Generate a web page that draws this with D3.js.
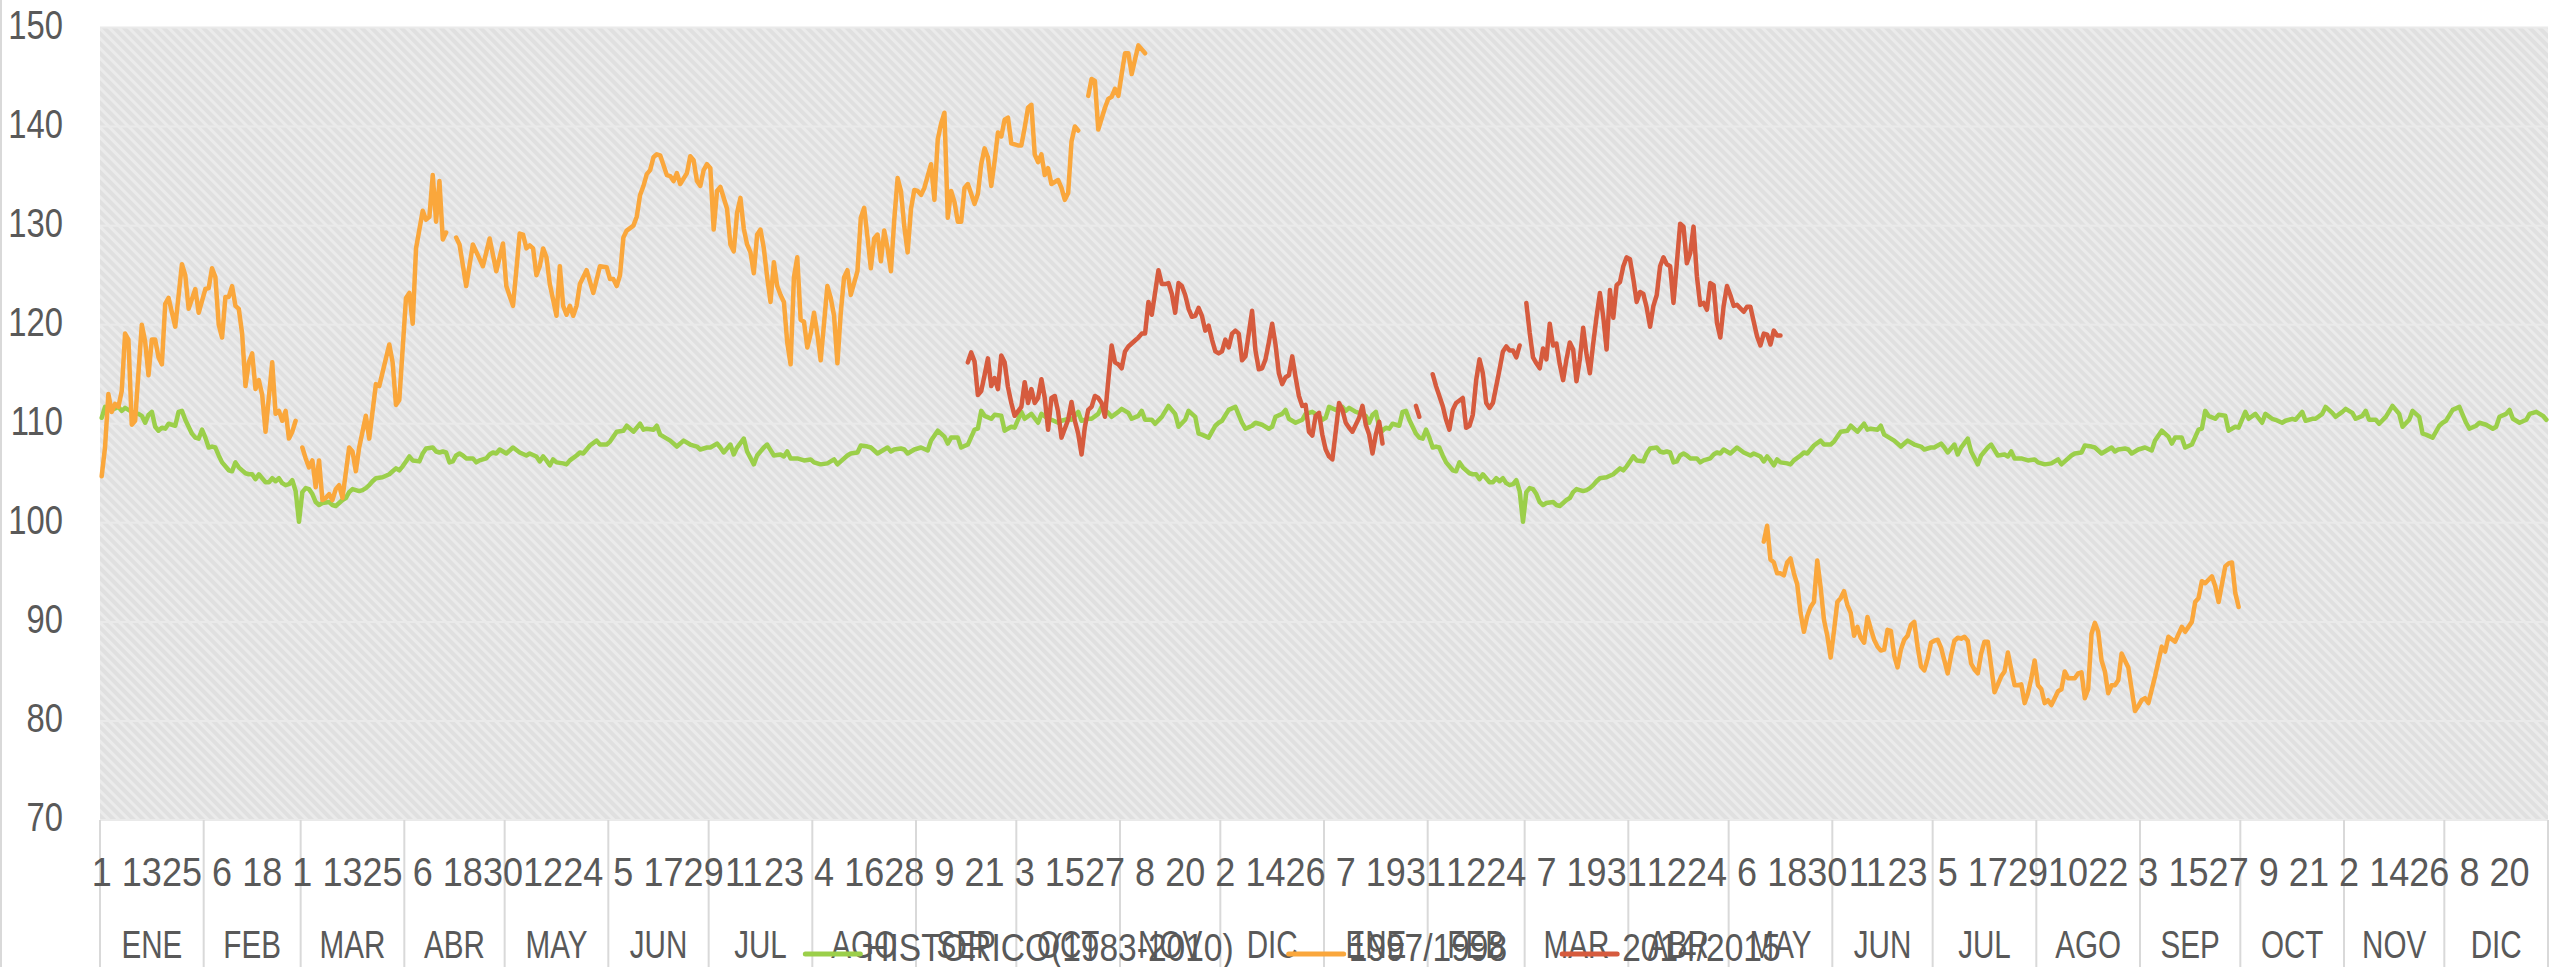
<!DOCTYPE html>
<html lang="es">
    <head>
        <meta charset="utf-8">
        <title>D3</title>
        <script type="text/javascript" src="https://cdnjs.cloudflare.com/ajax/libs/d3/7.8.5/d3.min.js"></script>
        <style type="text/css">
            body { margin: 0; background: #fff; }
            text { font-family: "Liberation Sans", Arial, sans-serif; fill: #595959; }
        </style>
    </head>
    <body>
        <script type="text/javascript">
            var w = 2552;
            var h = 967;

            // eje x: dos temporadas, dia a dia (febrero con 29 dias en ambas)
            var meses = ["ENE", "FEB", "MAR", "ABR", "MAY", "JUN", "JUL", "AGO", "SEP", "OCT", "NOV", "DIC"];
            var diasMes = [31, 29, 31, 30, 31, 30, 31, 31, 30, 31, 30, 31];
            var anios = 2;
            var pasoEtiqueta = 12;

            var yTicks = [70, 80, 90, 100, 110, 120, 130, 140, 150];

            var series = ["HISTORICO(1983-2010)", "1997/1998", "2014/2015"];
            var colores = ["#9bcf4a", "#faa73c", "#d65b3e"];

            // [indice de dia, valor]; null = sin dato
            var historico = [[0,110.6],[1,111.7],[3,111.4],[5,111.7],[6,111.3],[7,111.6],[8,111.4],[9,111.2],[11,111.0],[12,110.8],[13,110.1],[14,110.9],[15,111.2],[16,109.7],[17,109.3],[18,109.6],[19,109.5],[20,110.0],[21,109.9],[22,109.8],[23,111.2],[24,111.3],[25,110.4],[27,109.0],[28,108.6],[29,108.5],[30,109.4],[31,108.6],[32,107.6],[33,107.7],[34,107.6],[35,106.8],[36,106.1],[38,105.3],[39,105.2],[40,106.1],[41,105.6],[42,105.3],[43,105.0],[44,104.9],[45,104.9],[46,104.4],[47,104.9],[48,104.5],[49,104.1],[50,104.1],[51,104.5],[52,104.2],[53,104.5],[54,104.0],[55,103.8],[56,103.9],[57,104.3],[58,103.2],[59,100.1],[60,103.1],[61,103.5],[62,103.4],[63,102.9],[64,102.1],[65,101.8],[66,102.0],[68,102.1],[69,101.8],[70,101.7],[71,102.0],[72,102.3],[73,102.5],[74,103.1],[75,103.4],[77,103.2],[78,103.3],[79,103.5],[80,103.8],[81,104.2],[82,104.5],[84,104.6],[86,104.9],[87,105.2],[88,105.5],[89,105.3],[90,105.7],[91,106.2],[92,106.7],[93,106.3],[95,106.2],[96,107.0],[97,107.5],[99,107.6],[100,107.2],[101,107.1],[102,107.2],[103,107.1],[104,106.1],[105,106.2],[106,106.8],[107,107.0],[108,106.8],[109,106.5],[110,106.5],[111,106.5],[112,106.1],[113,106.3],[115,106.5],[116,106.9],[117,107.1],[118,107.0],[119,107.4],[120,107.2],[121,107.0],[122,107.3],[123,107.6],[125,107.1],[127,106.8],[128,107.0],[130,106.7],[131,106.2],[132,106.7],[133,106.3],[134,105.8],[135,106.4],[136,106.1],[138,106.0],[139,105.9],[140,106.3],[142,106.8],[143,107.1],[144,107.0],[146,107.8],[148,108.3],[149,107.9],[151,107.9],[152,108.2],[154,109.2],[156,109.3],[157,109.8],[159,109.2],[161,110.0],[162,109.4],[163,109.5],[165,109.4],[166,109.8],[167,108.9],[169,108.5],[170,108.3],[172,107.7],[174,108.3],[176,107.9],[178,107.7],[179,107.4],[181,107.6],[182,107.6],[184,108.0],[185,107.6],[186,107.1],[188,107.9],[189,106.9],[190,107.6],[192,108.5],[193,107.2],[195,105.9],[196,106.8],[198,107.6],[199,107.9],[201,106.8],[203,106.9],[204,106.7],[205,107.2],[206,106.5],[208,106.5],[210,106.3],[212,106.4],[213,106.1],[215,105.9],[217,106.0],[219,106.4],[220,105.9],[221,106.2],[223,106.8],[224,107.0],[226,107.1],[227,107.8],[229,107.7],[230,107.6],[232,107.0],[234,107.4],[235,107.6],[236,107.2],[237,107.4],[239,107.5],[240,107.4],[241,107.0],[242,107.2],[243,107.4],[245,107.6],[247,107.3],[248,108.3],[250,109.3],[252,108.7],[253,108.0],[254,108.6],[256,108.6],[257,107.6],[259,107.9],[261,109.4],[262,109.5],[263,111.3],[264,110.8],[266,110.5],[267,110.9],[269,110.8],[270,109.3],[272,109.7],[273,109.6],[275,111.2],[276,110.5],[278,111.0],[280,110.1],[281,111.0],[283,110.5],[284,110.4],[286,110.1],[287,110.3],[289,110.5],[290,110.4],[292,111.2],[293,110.3],[295,110.5],[296,110.5],[298,111.0],[299,111.7],[301,111.1],[302,110.7],[304,111.2],[305,111.5],[307,111.1],[308,110.5],[310,110.8],[311,111.3],[312,110.4],[314,110.4],[315,110.0],[317,110.7],[319,111.8],[321,111.0],[322,109.7],[324,110.4],[325,111.3],[327,110.7],[328,109.0],[329,108.9],[331,108.6],[333,109.8],[334,110.1],[335,110.3],[337,111.4],[339,111.7],[341,110.1],[342,109.5],[344,109.8],[345,110.1],[347,109.9],[349,109.5],[350,109.7],[351,110.7],[353,111.0],[354,111.4],[355,110.5],[357,110.1],[359,110.4],[360,111.0],[362,111.2],[364,110.8],[365,110.4]];

            var t9798 = [[0,104.7],[1,107.6],[2,113.0],[3,111.2],[4,112.0],[5,111.7],[6,113.3],[7,119.1],[8,118.5],[9,109.9],[10,110.3],[12,120.0],[13,118.3],[14,114.9],[15,118.5],[16,118.5],[17,116.7],[18,116.0],[19,122.1],[20,122.7],[22,119.8],[24,126.1],[25,125.0],[26,121.6],[28,123.6],[29,121.2],[31,123.6],[32,123.7],[33,125.7],[34,124.8],[35,120.0],[36,118.7],[37,122.8],[38,122.8],[39,123.9],[40,121.9],[41,121.6],[42,119.1],[43,113.8],[44,116.2],[45,117.1],[46,113.5],[47,114.4],[48,112.9],[49,109.2],[51,116.2],[52,111.0],[53,111.3],[54,110.3],[55,111.3],[56,108.5],[57,109.2],[58,110.3],[59,null],[60,107.6],[61,106.5],[62,105.6],[63,106.3],[64,103.6],[65,106.3],[66,102.3],[67,102.5],[68,102.9],[69,102.3],[70,103.4],[71,103.8],[72,102.5],[74,107.6],[75,107.2],[76,105.2],[77,107.6],[79,110.8],[80,108.5],[82,114.0],[83,113.8],[86,118.0],[87,116.2],[88,111.9],[89,112.4],[91,122.7],[92,123.2],[93,120.1],[94,127.7],[96,131.5],[97,130.6],[98,130.9],[99,135.1],[100,130.4],[101,134.5],[102,128.6],[103,129.3],[104,null],[106,128.8],[107,128.1],[109,123.9],[111,128.1],[114,125.9],[116,128.7],[118,125.4],[120,128.2],[121,123.9],[123,121.9],[125,129.2],[126,129.1],[127,127.7],[128,128.0],[129,127.7],[130,125.0],[131,125.9],[132,127.7],[133,126.8],[134,124.1],[136,120.9],[137,125.9],[138,121.9],[139,121.0],[140,121.9],[141,120.9],[142,121.9],[143,124.1],[145,125.5],[147,123.2],[149,125.9],[151,125.8],[152,124.6],[153,124.6],[154,123.9],[155,125.0],[156,128.8],[157,129.5],[159,130.0],[160,130.9],[161,133.1],[162,134.0],[163,135.2],[164,135.6],[165,136.9],[166,137.2],[167,137.1],[169,135.1],[170,135.0],[171,134.5],[172,135.3],[173,134.2],[175,135.3],[176,137.0],[177,136.6],[178,134.5],[179,134.0],[180,135.6],[181,136.2],[182,135.8],[183,129.6],[184,133.5],[185,133.9],[187,131.7],[188,128.1],[189,127.4],[190,131.3],[191,132.8],[192,129.7],[193,128.1],[194,127.3],[195,125.2],[196,129.1],[197,129.6],[198,127.7],[199,124.8],[200,122.3],[201,126.3],[202,123.9],[203,123.0],[204,122.3],[205,118.2],[206,116.0],[207,124.8],[208,126.8],[209,120.5],[210,120.3],[211,117.7],[212,119.1],[213,121.2],[214,119.1],[215,116.4],[217,123.9],[218,122.7],[219,120.9],[220,116.1],[221,121.2],[222,124.8],[223,125.5],[224,123.0],[226,125.4],[227,130.8],[228,131.8],[229,128.8],[230,125.7],[231,128.7],[232,129.1],[233,126.4],[234,129.5],[235,127.7],[236,125.4],[237,130.6],[238,134.8],[239,133.5],[240,129.9],[241,127.3],[242,131.7],[243,133.6],[244,133.5],[245,133.1],[246,133.8],[248,136.2],[249,132.6],[250,138.7],[251,140.3],[252,141.4],[253,130.8],[254,133.5],[255,132.4],[256,130.4],[257,130.4],[258,133.8],[259,134.2],[261,132.2],[262,133.2],[263,136.2],[264,137.8],[265,136.9],[266,134.0],[267,136.5],[268,139.4],[269,139.0],[270,140.7],[271,140.9],[272,138.3],[274,138.1],[275,138.1],[276,139.9],[277,141.9],[278,142.2],[279,137.2],[280,136.4],[281,137.2],[282,135.1],[283,135.8],[284,134.2],[286,134.6],[287,133.8],[288,132.6],[289,133.3],[290,138.5],[291,140.0],[292,139.6],[293,null],[295,143.1],[296,144.8],[297,144.6],[298,139.7],[300,141.9],[301,142.8],[302,143.0],[303,143.8],[304,143.1],[305,145.3],[306,147.4],[307,147.4],[308,145.3],[309,146.8],[310,148.2],[312,147.4],[313,null],
                [497,98.1],[498,99.7],[499,96.3],[500,96.0],[501,94.9],[502,94.9],[503,94.7],[504,96.0],[505,96.4],[506,94.9],[507,93.8],[508,90.9],[509,89.0],[510,90.6],[511,91.5],[512,92.0],[513,96.2],[514,93.5],[515,90.2],[516,88.6],[517,86.4],[518,89.1],[519,92.0],[520,92.4],[521,93.1],[522,91.7],[523,90.9],[524,88.6],[525,89.5],[526,88.4],[527,87.9],[528,90.5],[529,89.3],[530,88.2],[531,87.5],[532,87.1],[533,87.2],[534,89.2],[535,89.1],[536,86.6],[537,85.4],[538,87.2],[539,88.2],[540,88.6],[541,89.7],[542,90.0],[543,87.5],[544,85.5],[545,85.1],[546,86.3],[547,87.9],[548,88.1],[549,88.2],[550,87.4],[551,86.1],[552,84.8],[553,86.6],[554,88.1],[555,88.4],[556,88.3],[557,88.5],[558,88.1],[559,85.8],[560,85.2],[561,84.8],[562,86.8],[563,88.0],[564,88.0],[565,85.5],[566,82.9],[567,83.7],[568,84.5],[569,85.0],[570,86.9],[571,85.2],[572,83.6],[573,83.6],[574,83.7],[575,81.8],[576,82.8],[577,84.3],[578,86.1],[579,83.6],[580,83.2],[581,81.8],[582,82.1],[583,81.6],[584,82.3],[585,83.0],[586,83.2],[587,85.0],[588,84.3],[589,84.3],[590,84.3],[591,84.8],[592,84.9],[593,82.3],[594,83.2],[595,88.8],[596,89.9],[597,89.0],[598,86.1],[599,85.0],[600,82.8],[601,83.6],[602,83.6],[603,84.1],[604,86.8],[605,86.1],[606,85.4],[607,83.2],[608,81.0],[609,81.5],[610,82.1],[611,82.3],[612,81.8],[614,84.5],[616,87.5],[617,87.0],[618,88.5],[620,88.0],[622,89.5],[623,89.0],[625,90.0],[626,92.0],[627,92.4],[628,94.1],[629,93.9],[631,94.6],[632,93.6],[633,92.0],[635,95.6],[636,95.9],[637,96.0],[638,92.9],[639,91.5]];

            var t1415 = [[259,116.2],[260,117.2],[261,116.3],[262,112.9],[263,113.3],[264,114.9],[265,116.6],[266,113.8],[267,114.6],[268,113.5],[269,116.9],[270,116.2],[271,113.7],[272,112.1],[273,110.8],[275,111.7],[276,114.2],[277,112.1],[278,113.5],[279,112.1],[280,112.6],[281,114.5],[282,112.6],[283,109.4],[284,112.6],[285,112.8],[286,111.2],[287,108.6],[289,110.4],[290,112.2],[291,110.3],[292,109.0],[293,106.9],[294,109.7],[295,111.4],[296,111.7],[297,112.8],[298,112.6],[299,112.1],[300,110.7],[301,114.4],[302,117.9],[303,116.2],[304,116.0],[305,115.6],[306,117.3],[307,117.8],[309,118.4],[310,118.7],[311,119.1],[312,119.1],[313,122.3],[314,121.0],[316,125.5],[317,124.1],[318,124.1],[319,124.2],[320,123.1],[321,121.2],[322,124.2],[323,123.9],[324,123.0],[325,121.6],[326,120.8],[327,120.9],[328,121.7],[329,120.9],[330,119.4],[331,119.9],[332,118.5],[333,117.3],[334,117.1],[335,117.3],[336,118.5],[337,117.7],[338,119.1],[339,119.4],[340,119.1],[341,116.4],[342,116.8],[343,119.1],[344,121.4],[345,117.4],[346,115.5],[347,115.6],[348,116.5],[349,118.2],[350,120.1],[351,118.0],[352,115.1],[353,114.0],[354,114.7],[355,114.9],[356,116.8],[357,114.7],[358,112.8],[359,111.8],[360,111.9],[361,109.2],[362,108.8],[363,110.8],[364,111.1],[365,108.9],[366,107.4],[367,106.7],[368,106.4],[369,109.2],[370,112.1],[371,111.4],[372,110.1],[373,109.6],[374,109.2],[376,110.6],[377,111.8],[378,109.9],[379,108.9],[380,107.0],[381,108.9],[382,110.2],[383,108.0],[384,null],[393,111.8],[394,110.7],[395,null],[398,115.0],[399,113.8],[401,111.8],[402,110.4],[403,109.4],[404,111.4],[405,112.1],[407,112.6],[408,109.6],[409,109.8],[410,110.9],[411,114.4],[412,116.5],[413,115.1],[414,112.1],[415,111.6],[416,112.1],[418,115.5],[419,117.3],[420,117.8],[421,117.4],[422,117.4],[423,116.7],[424,117.9],[425,null],[426,122.2],[427,119.2],[428,116.7],[429,116.1],[430,115.6],[431,117.6],[432,116.5],[433,120.1],[434,117.9],[435,118.1],[436,116.0],[437,114.4],[438,116.5],[439,118.2],[440,117.5],[441,114.3],[442,116.5],[443,119.7],[444,117.0],[445,115.1],[446,118.1],[447,120.8],[448,123.2],[449,120.8],[450,117.5],[451,123.5],[452,120.7],[453,124.0],[454,124.3],[455,125.9],[456,126.8],[457,126.6],[458,124.6],[459,122.3],[460,123.3],[461,123.1],[462,121.7],[463,119.8],[464,121.9],[465,123.0],[466,125.9],[467,126.8],[468,126.1],[469,125.9],[470,122.2],[471,126.2],[472,130.2],[473,129.9],[474,126.2],[475,127.2],[476,129.9],[477,124.9],[478,122.0],[479,122.2],[480,121.5],[481,124.2],[482,124.0],[483,120.2],[484,118.7],[485,121.9],[486,123.9],[487,123.0],[488,121.9],[489,122.0],[491,121.3],[492,121.8],[493,121.8],[494,120.3],[495,118.8],[496,117.9],[497,119.1],[498,119.0],[499,118.0],[500,119.4],[501,118.9],[502,118.9]];

            // categorias: todos los dias de las dos temporadas
            var dias = [];
            for (var a = 0; a < anios; a++) {
                for (var m = 0; m < 12; m++) {
                    for (var d = 1; d <= diasMes[m]; d++) {
                        dias.push({ anio: a, mes: m, dia: d });
                    }
                }
            }
            var diasAnio = d3.sum(diasMes);

            // el historico es la misma curva anual repetida en cada temporada
            var historicoDos = historico.concat(historico.map(function (p) {
                return [p[0] + diasAnio, p[1]];
            }));

            var margin = { left: 100, right: 4, top: 27.5, bottom: 147 };

            // letra alta y estrecha como la del original
            var fuente = { ejeY: 40, escY: 0.82, dia: 40, escDia: 0.9, mes: 39, escMes: 0.76, ley: 39, escLey: 0.86 };

            var x = d3.scaleBand()
                      .domain(d3.range(dias.length))
                      .range([margin.left, w - margin.right]);
            var y = d3.scaleLinear()
                      .domain([70, 150])
                      .range([h - margin.bottom, margin.top]);
            var cx = function (i) { return x(i) + x.bandwidth() / 2; };

            var svg = d3.select("body")
                        .append("svg")
                        .attr("width", w)
                        .attr("height", h);

            var defs = svg.append("defs");
            var trama = defs.append("pattern")
                            .attr("id", "trama")
                            .attr("patternUnits", "userSpaceOnUse")
                            .attr("width", 7)
                            .attr("height", 7)
                            .attr("patternTransform", "rotate(-45)");
            trama.append("rect").attr("width", 7).attr("height", 7).attr("fill", "#e0e0e0");
            trama.append("rect").attr("width", 3).attr("height", 7).attr("fill", "#ebebeb");

            // borde izquierdo del area del grafico
            svg.append("line")
               .attr("x1", 1).attr("x2", 1)
               .attr("y1", 0).attr("y2", h)
               .attr("stroke", "#d9d9d9")
               .attr("stroke-width", 2);

            svg.append("rect")
               .attr("x", margin.left)
               .attr("y", margin.top)
               .attr("width", w - margin.right - margin.left)
               .attr("height", y(70) - margin.top)
               .attr("fill", "url(#trama)");

            svg.append("g")
               .selectAll("line")
               .data(yTicks)
               .enter()
               .append("line")
               .attr("x1", margin.left)
               .attr("x2", w - margin.right)
               .attr("y1", function (d) { return y(d); })
               .attr("y2", function (d) { return y(d); })
               .attr("stroke", "#eaeaea")
               .attr("stroke-width", 2);

            // eje y
            var padY = 37;
            var ejeY = svg.append("g")
                          .attr("transform", "translate(" + margin.left + ",0)")
                          .call(d3.axisLeft(y).tickValues(yTicks).tickSize(0).tickPadding(padY));
            ejeY.select(".domain").remove();
            ejeY.selectAll("text")
                .attr("font-family", "Liberation Sans, Arial, sans-serif")
                .attr("font-size", fuente.ejeY)
                .attr("x", -padY / fuente.escY)
                .attr("dy", "0.27em")
                .attr("transform", "scale(" + fuente.escY + ",1)")
                .style("fill", "#595959");

            // separadores de meses
            var inicios = dias.map(function (d, i) { return i; })
                              .filter(function (i) { return dias[i].dia === 1; });
            svg.append("g")
               .selectAll("line")
               .data(inicios.concat([dias.length]))
               .enter()
               .append("line")
               .attr("x1", function (i) { return i < dias.length ? x(i) : w - margin.right; })
               .attr("x2", function (i) { return i < dias.length ? x(i) : w - margin.right; })
               .attr("y1", y(70))
               .attr("y2", h)
               .attr("stroke", "#d9d9d9")
               .attr("stroke-width", 2);

            // etiquetas de dia (cada 12 categorias)
            var ejeX = svg.append("g")
                          .attr("transform", "translate(0," + y(70) + ")")
                          .call(d3.axisBottom(x)
                                  .tickValues(d3.range(0, dias.length, pasoEtiqueta))
                                  .tickFormat(function (i) { return dias[i].dia; })
                                  .tickSize(0)
                                  .tickPadding(0));
            ejeX.select(".domain").remove();
            ejeX.selectAll("text")
                .attr("font-family", "Liberation Sans, Arial, sans-serif")
                .attr("font-size", fuente.dia)
                .attr("y", 66)
                .attr("dy", null)
                .attr("transform", "scale(" + fuente.escDia + ",1)")
                .style("fill", "#595959");

            // etiquetas de mes
            svg.append("g")
               .selectAll("g")
               .data(inicios)
               .enter()
               .append("g")
               .attr("transform", function (i) {
                   return "translate(" + (x(i) + diasMes[dias[i].mes] * x.bandwidth() / 2) + ",958)";
               })
               .append("text")
               .attr("text-anchor", "middle")
               .attr("font-size", fuente.mes)
               .attr("transform", "scale(" + fuente.escMes + ",1)")
               .text(function (i) { return meses[dias[i].mes]; });

            // lineas
            var linea = d3.line()
                          .defined(function (p) { return p[1] != null; })
                          .x(function (p) { return cx(p[0]); })
                          .y(function (p) { return y(p[1]); });

            var datos = [historicoDos, t9798, t1415];
            svg.append("g")
               .selectAll("path")
               .data(datos)
               .enter()
               .append("path")
               .attr("d", linea)
               .attr("fill", "none")
               .attr("stroke", function (d, i) { return colores[i]; })
               .attr("stroke-width", 4.5)
               .attr("stroke-linejoin", "round")
               .attr("stroke-linecap", "round");

            // leyenda
            var leyenda = svg.append("g");
            var items = leyenda.selectAll("g")
                               .data(series)
                               .enter()
                               .append("g");
            items.append("line")
                 .attr("x1", 0).attr("x2", 55)
                 .attr("y1", 954).attr("y2", 954)
                 .attr("stroke", function (d, i) { return colores[i]; })
                 .attr("stroke-width", 5)
                 .attr("stroke-linecap", "round");
            items.append("text")
                 .attr("x", 60 / fuente.escLey)
                 .attr("y", 961)
                 .attr("font-size", fuente.ley)
                 .attr("transform", "scale(" + fuente.escLey + ",1)")
                 .text(function (d) { return d; });

            var anchos = [];
            items.each(function () {
                anchos.push(60 + fuente.escLey * d3.select(this).select("text").node().getComputedTextLength());
            });
            var separacion = 55;
            var total = d3.sum(anchos) + separacion * (anchos.length - 1);
            var inicioLeyenda = 1293 - total / 2;
            items.attr("transform", function (d, i) {
                return "translate(" + (inicioLeyenda + d3.sum(anchos.slice(0, i)) + separacion * i) + ",0)";
            });
        </script>
    </body>
</html>
